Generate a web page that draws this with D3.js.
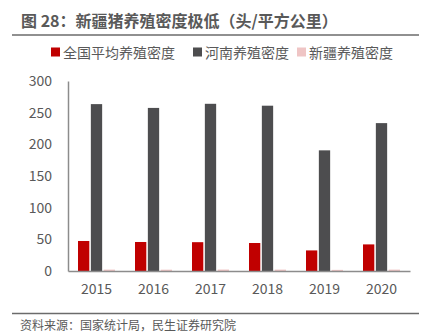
<!DOCTYPE html>
<html><head><meta charset="utf-8">
<script src="https://cdn.jsdelivr.net/npm/d3@7"></script>
<style>body{margin:0;background:#fff;}svg{display:block;font-family:"Noto Sans CJK SC","Microsoft YaHei",sans-serif;}</style>
</head><body>
<svg id="c" width="432" height="334"></svg>
<script>
const years = ["2015","2016","2017","2018","2019","2020"];
const nationalAvg = [47.4, 45.8, 45.5, 44.2, 32.5, 42.0];
const henan = [263.5, 257.5, 264.0, 261.0, 190.5, 233.5];
const xinjiang = [2.2, 2.1, 2.3, 2.2, 1.8, 2.2];
const seriesNames = ["全国平均养殖密度","河南养殖密度","新疆养殖密度"];
const colors = ["#c00000","#4d4d4f","#efc5c5"];
const yTicks = [0,50,100,150,200,250,300];

const svg = d3.select("#c");
const txt = "#595959";

svg.append("text").attr("x",21).attr("y",26.5).attr("font-size",16).attr("font-weight","bold")
  .attr("fill",txt).text("图 28：新疆猪养殖密度极低（头/平方公里）");
svg.append("line").attr("x1",12).attr("x2",419).attr("y1",35).attr("y2",35).attr("stroke","#6b6b6b").attr("stroke-width",1.5);

// legend
const legX = [51, 193, 297];
seriesNames.forEach((n,i)=>{
  svg.append("rect").attr("x",legX[i]).attr("y",47.5).attr("width",9).attr("height",9).attr("fill",colors[i]);
  svg.append("text").attr("x",legX[i]+12).attr("y",57.5).attr("font-size",14).attr("fill",txt).text(n);
});

const x0 = d3.scaleBand().domain(years).range([68,410]).paddingInner(0).paddingOuter(0);
const x1 = d3.scaleBand().domain([0,1,2]).range([10,47]).paddingInner(0.12).paddingOuter(0);
const y = d3.scaleLinear().domain([0,300]).range([271,81]);

const data = [nationalAvg, henan, xinjiang];
data.forEach((arr,si)=>{
  svg.append("g").selectAll("rect").data(arr).join("rect")
    .attr("x",(d,i)=>x0(years[i])+x1(si))
    .attr("width",x1.bandwidth())
    .attr("y",d=>y(d))
    .attr("height",d=>y(0)-y(d))
    .attr("fill",colors[si]);
});

// y axis
const yAxis = d3.axisLeft(y).tickValues(yTicks).tickSize(0).tickPadding(16);
const gy = svg.append("g").attr("transform","translate(68,0)").call(yAxis);
gy.select(".domain").attr("stroke","#8c8c8c").attr("stroke-width",1.5);
gy.selectAll("text").attr("font-size",14).attr("fill",txt).attr("font-family","'Noto Sans CJK SC',sans-serif");

const xAxis = d3.axisBottom(x0).tickSize(0).tickPadding(13);
const gx = svg.append("g").attr("transform","translate(0,271)").call(xAxis);
gx.select(".domain").attr("stroke","#8c8c8c").attr("stroke-width",1.5);
gx.selectAll("text").attr("font-size",14).attr("fill",txt).attr("font-family","'Noto Sans CJK SC',sans-serif");

svg.append("line").attr("x1",12).attr("x2",419).attr("y1",313.5).attr("y2",313.5).attr("stroke","#6b6b6b").attr("stroke-width",1.5);
svg.append("text").attr("x",20).attr("y",330).attr("font-size",12).attr("fill",txt).text("资料来源：国家统计局，民生证券研究院");
</script>
</body></html>
